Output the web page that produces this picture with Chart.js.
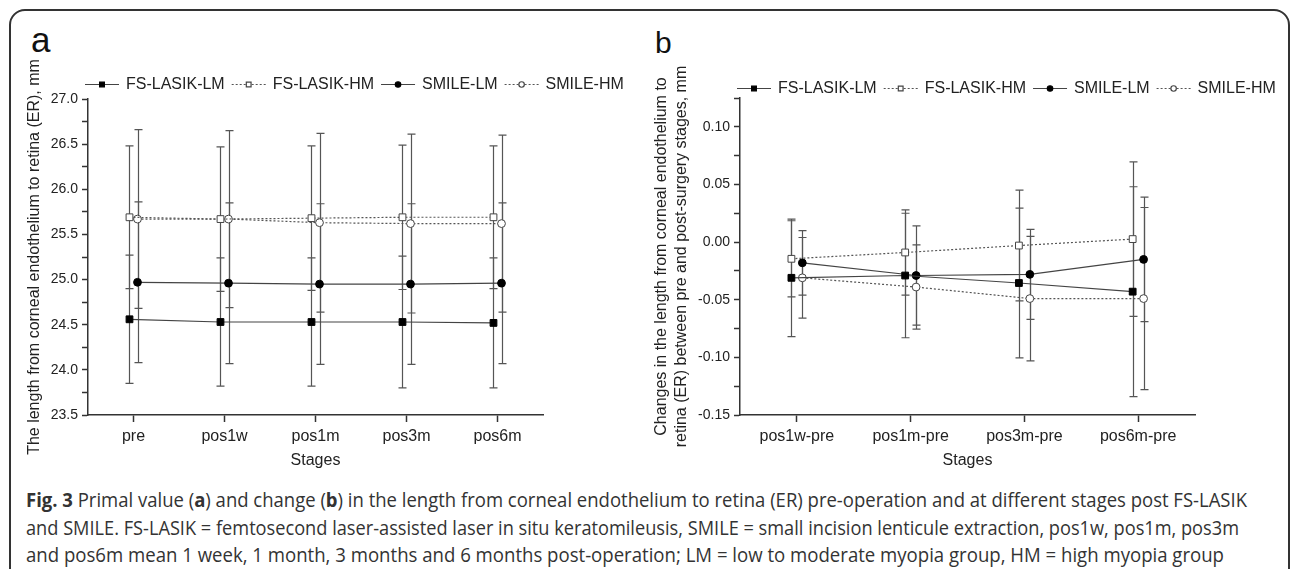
<!DOCTYPE html>
<html>
<head>
<meta charset="utf-8">
<script src="https://cdn.jsdelivr.net/npm/chart.js@4.4.1/dist/chart.umd.min.js"></script>
<style>
  body { margin: 0; background: #fff; width: 1292px; height: 569px; overflow: hidden; position: relative;
         font-family: "Liberation Sans", Arial, sans-serif; }
  .frame { position: absolute; left: 9px; top: 9px; width: 1281px; height: 640px; border: 2px solid #333;
           border-radius: 16px; box-sizing: border-box; }
  .panel { position: absolute; line-height: 1; color: #111; }
  #wrapA { position: absolute; left: 0; top: 0; width: 640px; height: 480px; }
  #wrapB { position: absolute; left: 640px; top: 0; width: 652px; height: 480px; }
  .cap { position: absolute; left: 26px; font-family: "Open Sans", sans-serif;
         font-size: 20px; line-height: 27px; color: #333; white-space: nowrap; transform-origin: 0 0; }
</style>
</head>
<body>
<div class="frame"></div>
<div class="panel" style="left:31px;top:22px;font-size:35px;">a</div>
<div class="panel" style="left:655px;top:28px;font-size:30px;">b</div>
<div id="wrapA"><canvas id="chartA" width="640" height="480"></canvas></div>
<div id="wrapB"><canvas id="chartB" width="652" height="480"></canvas></div>
<div class="cap" data-w="1221" style="top:486px;"><b>Fig. 3</b> Primal value (<b>a</b>) and change (<b>b</b>) in the length from corneal endothelium to retina (ER) pre-operation and at different stages post FS-LASIK</div>
<div class="cap" data-w="1213" style="top:514px;">and SMILE. FS-LASIK = femtosecond laser-assisted laser in situ keratomileusis, SMILE = small incision lenticule extraction, pos1w, pos1m, pos3m</div>
<div class="cap" data-w="1198" style="top:541px;">and pos6m mean 1 week, 1 month, 3 months and 6 months post-operation; LM = low to moderate myopia group, HM = high myopia group</div>

<script>
// panel a: primal values (mean and SD), mm
var stagesA = ['pre', 'pos1w', 'pos1m', 'pos3m', 'pos6m'];
var lasikLM_A = [24.56, 24.53, 24.53, 24.53, 24.52];
var lasikLM_A_sd = [0.71, 0.71, 0.71, 0.73, 0.72];
var lasikHM_A = [25.69, 25.67, 25.68, 25.69, 25.69];
var lasikHM_A_sd = [0.79, 0.80, 0.80, 0.80, 0.79];
var smileLM_A = [24.97, 24.96, 24.95, 24.95, 24.96];
var smileLM_A_sd = [0.89, 0.89, 0.89, 0.89, 0.89];
var smileHM_A = [25.67, 25.67, 25.63, 25.62, 25.62];
var smileHM_A_sd = [0.99, 0.98, 0.99, 0.99, 0.98];

// panel b: changes vs pre (mean and SD), mm
var stagesB = ['pos1w-pre', 'pos1m-pre', 'pos3m-pre', 'pos6m-pre'];
var lasikLM_B = [-0.031, -0.029, -0.0355, -0.043];
var lasikLM_B_sd = [0.051, 0.054, 0.065, 0.091];
var lasikHM_B = [-0.0145, -0.009, -0.003, 0.0026];
var lasikHM_B_sd = [0.033, 0.037, 0.048, 0.067];
var smileLM_B = [-0.018, -0.029, -0.028, -0.015];
var smileLM_B_sd = [0.028, 0.043, 0.039, 0.054];
var smileHM_B = [-0.031, -0.039, -0.049, -0.049];
var smileHM_B_sd = [0.035, 0.0365, 0.054, 0.079];

var seriesNames = ['FS-LASIK-LM', 'FS-LASIK-HM', 'SMILE-LM', 'SMILE-HM'];

var FONT = '"Liberation Sans", Arial, sans-serif';
var TEXT = '#222';

// squeeze the caption lines to the width they have in the figure
document.querySelectorAll('.cap').forEach(function(el) {
  var w = el.getBoundingClientRect().width;
  el.style.transform = 'scaleX(' + (Number(el.dataset.w) / w) + ')';
});

// draws the vertical error bars under the markers
var errorBars = {
  id: 'errorBars',
  beforeDatasetsDraw: function(chart) {
    var ctx = chart.ctx, x = chart.scales.x, y = chart.scales.y;
    ctx.save();
    ctx.strokeStyle = '#555';
    ctx.lineWidth = 1.2;
    chart.data.datasets.forEach(function(ds) {
      ds.data.forEach(function(pt, i) {
        var e = ds.errors[i];
        var px = Math.round(x.getPixelForValue(pt.x)) + 0.5;
        var top = y.getPixelForValue(pt.y + e);
        var bot = y.getPixelForValue(pt.y - e);
        ctx.beginPath();
        ctx.moveTo(px, top); ctx.lineTo(px, bot);
        ctx.moveTo(px - 4, top); ctx.lineTo(px + 4, top);
        ctx.moveTo(px - 4, bot); ctx.lineTo(px + 4, bot);
        ctx.stroke();
      });
    });
    ctx.restore();
  }
};

// Origin style legend: line - marker - line, then the label
var lineLegend = {
  id: 'lineLegend',
  afterDraw: function(chart, args, opts) {
    var ctx = chart.ctx;
    var x = opts.x, y = opts.y;
    ctx.save();
    ctx.font = '16px ' + FONT;
    ctx.textBaseline = 'middle';
    chart.data.datasets.forEach(function(ds) {
      ctx.strokeStyle = ds.borderColor;
      ctx.lineWidth = ds.borderWidth;
      ctx.setLineDash(ds.borderDash || []);
      ctx.beginPath();
      ctx.moveTo(x, y + 0.5); ctx.lineTo(x + 34, y + 0.5);
      ctx.stroke();
      ctx.setLineDash([]);
      ctx.fillStyle = ds.pointBackgroundColor;
      ctx.strokeStyle = ds.pointBorderColor;
      Chart.helpers.drawPoint(ctx, {
        pointStyle: ds.pointStyle, radius: ds.pointRadius * 0.7,
        borderWidth: ds.pointBorderWidth, rotation: 0
      }, x + 17, y + 0.5);
      ctx.fillStyle = TEXT;
      ctx.fillText(ds.label, x + 41, y + 1);
      x += 41 + ctx.measureText(ds.label).width + 7;
    });
    ctx.restore();
  }
};

function makeSets(values, sds, shift) {
  var styles = [
    { pointStyle: 'rect', pointRadius: 4.8, fill: '#000', dash: [], line: '#444' },
    { pointStyle: 'rect', pointRadius: 4.8, fill: '#fff', dash: [2, 2], line: '#555' },
    { pointStyle: 'circle', pointRadius: 3.9, fill: '#000', dash: [], line: '#444' },
    { pointStyle: 'circle', pointRadius: 3.9, fill: '#fff', dash: [2, 2], line: '#555' }
  ];
  return values.map(function(vals, k) {
    var st = styles[k];
    var off = k < 2 ? -shift : shift;
    return {
      label: seriesNames[k],
      data: vals.map(function(v, i) { return { x: i + off, y: v }; }),
      errors: sds[k],
      borderColor: st.line,
      borderWidth: 1.2,
      borderDash: st.dash,
      pointStyle: st.pointStyle,
      pointRadius: st.pointRadius,
      pointBackgroundColor: st.fill,
      pointBorderColor: st.fill === '#000' ? '#000' : '#444',
      pointBorderWidth: 1,
      tension: 0
    };
  });
}

function makeChart(id, cfg) {
  return new Chart(document.getElementById(id), {
    type: 'line',
    data: { datasets: makeSets(cfg.values, cfg.sds, cfg.shift) },
    plugins: [errorBars, lineLegend],
    options: {
      responsive: false,
      animation: false,
      layout: { padding: { top: cfg.top, right: cfg.right, left: 0, bottom: 0 } },
      plugins: {
        legend: { display: false },
        tooltip: { enabled: false },
        lineLegend: { x: cfg.legendX, y: cfg.legendY }
      },
      scales: {
        x: {
          type: 'linear',
          min: -0.5,
          max: cfg.cats.length - 0.5,
          afterBuildTicks: function(axis) {
            axis.ticks = cfg.cats.map(function(c, i) { return { value: i }; });
          },
          afterFit: function(axis) { axis.height = 480 - cfg.bottom; },
          ticks: {
            autoSkip: false, maxRotation: 0, padding: 5, color: TEXT,
            font: { family: FONT, size: 16 },
            callback: function(v) { return cfg.cats[v]; }
          },
          grid: { drawOnChartArea: false, tickLength: 7, tickColor: '#333', tickWidth: 1.5 },
          border: { color: '#333', width: 1.5 },
          title: { display: true, text: 'Stages', color: TEXT, font: { family: FONT, size: 16 },
                   padding: { top: 0, bottom: 10 } }
        },
        y: {
          min: cfg.ymin,
          max: cfg.ymax,
          afterFit: function(axis) { axis.width = cfg.left; },
          ticks: {
            stepSize: cfg.minor, autoSkip: false, padding: 4, color: TEXT,
            font: { family: FONT, size: 14 },
            callback: cfg.fmt
          },
          grid: { drawOnChartArea: false, tickLength: 6, tickColor: '#333', tickWidth: 1.5 },
          border: { color: '#333', width: 1.5 },
          title: { display: true, text: cfg.ytitle, color: TEXT,
                   font: { family: FONT, size: 16, lineHeight: 1.25 },
                   padding: { top: cfg.titlePad } }
        }
      }
    }
  });
}

makeChart('chartA', {
  cats: stagesA,
  values: [lasikLM_A, lasikHM_A, smileLM_A, smileHM_A],
  sds: [lasikLM_A_sd, lasikHM_A_sd, smileLM_A_sd, smileHM_A_sd],
  shift: 0.044,
  ymin: 23.5, ymax: 27.0, minor: 0.25,
  fmt: function(v) { return Math.abs(v * 2 - Math.round(v * 2)) < 1e-6 ? v.toFixed(1) : ''; },
  ytitle: 'The length from corneal endothelium to retina (ER), mm',
  titlePad: 25,
  top: 99, right: 97, left: 88, bottom: 415,
  legendX: 85, legendY: 84
});

makeChart('chartB', {
  cats: stagesB,
  values: [lasikLM_B, lasikHM_B, smileLM_B, smileHM_B],
  sds: [lasikLM_B_sd, lasikHM_B_sd, smileLM_B_sd, smileHM_B_sd],
  shift: 0.048,
  ymin: -0.15, ymax: 0.125, minor: 0.025,
  fmt: function(v) {
    if (Math.abs(v * 20 - Math.round(v * 20)) > 1e-6) return '';
    return Math.abs(v) < 1e-9 ? '0.00' : v.toFixed(2);
  },
  ytitle: ['Changes in the length from corneal endothelium to',
           'retina (ER) between pre and post-surgery stages, mm'],
  titlePad: 12,
  top: 98, right: 97, left: 100, bottom: 415,
  legendX: 97, legendY: 88
});
</script>
</body>
</html>
